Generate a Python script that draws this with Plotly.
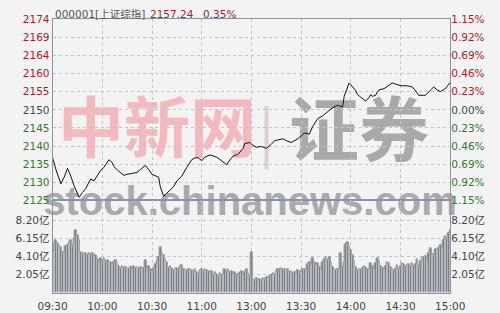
import plotly.graph_objects as go

# ---------------- data ----------------
prev_close = 2149.72

minutes = [0, 2, 5, 7, 9, 11, 13, 15, 16, 18,
           20, 22, 23, 25, 27, 29, 31, 34, 36, 37,
           40, 43, 45, 48, 51, 53, 56, 58, 60, 64,
           65, 67, 70, 73, 75, 78, 81, 84, 86, 88,
           90, 92, 95, 97, 99, 102, 105, 107, 109, 111,
           112, 115, 116, 119, 121, 123, 126, 129, 132, 134,
           137, 139, 141, 144, 146, 148, 150, 152, 155, 157,
           160, 163, 166, 169, 172, 175, 176, 178, 179, 180,
           183, 184, 187, 189, 191, 192, 193, 195, 196, 197,
           200, 201, 204, 205, 208, 211, 214, 217, 219, 221,
           224, 225, 228, 230, 232, 234, 237, 240]

prices = [2136.6, 2133.4, 2129.5, 2131.3, 2133.7, 2131.6, 2128.9, 2127.1, 2125.8, 2127.1,
          2128.2, 2130.0, 2130.8, 2130.3, 2131.8, 2133.2, 2134.0, 2136.1, 2135.3, 2134.2,
          2132.9, 2131.8, 2132.1, 2132.4, 2132.6, 2133.4, 2134.5, 2133.4, 2132.1, 2131.3,
          2128.7, 2126.1, 2127.4, 2128.7, 2130.3, 2131.6, 2134.0, 2136.1, 2136.6, 2136.6,
          2135.8, 2136.8, 2137.4, 2137.1, 2136.8, 2135.8, 2134.7, 2136.0, 2137.1, 2137.4,
          2137.6, 2139.2, 2140.5, 2140.8, 2140.0, 2139.5, 2139.7, 2139.2, 2140.3, 2141.3,
          2141.6, 2141.8, 2141.3, 2140.8, 2141.3, 2141.8, 2142.6, 2143.4, 2143.1, 2145.2,
          2147.3, 2148.1, 2149.2, 2150.3, 2151.0, 2150.5, 2153.4, 2156.3, 2157.1, 2156.6,
          2155.0, 2153.9, 2152.9, 2152.1, 2153.1, 2153.9, 2153.4, 2153.7, 2154.7, 2155.2,
          2155.5, 2155.8, 2156.6, 2157.1, 2156.6, 2156.3, 2156.3, 2156.0, 2155.0, 2153.7,
          2153.7, 2153.7, 2155.0, 2156.0, 2155.2, 2154.7, 2155.5, 2157.24]

volumes = [
    4.6, 5.6, 5.9, 5.6, 5.4, 5.2, 4.6, 4.6, 5.3, 5.4,
    5.6, 5.9, 5.4, 6.1, 7.1, 6.5, 6.0, 4.6, 4.5, 4.4,
    4.5, 4.3, 4.5, 4.4, 4.5, 4.0, 4.2, 3.8, 3.5, 3.9,
    3.7, 3.9, 3.6, 3.7, 3.4, 3.5, 3.2, 3.4, 3.7, 3.3,
    3.0, 2.8, 3.0, 2.9, 2.9, 2.8, 2.7, 2.9, 2.7, 3.0,
    2.8, 2.9, 2.8, 2.9, 2.6, 2.8, 3.7, 2.8, 3.0, 2.7,
    2.4, 2.7, 3.2, 3.6, 4.0, 5.2, 4.5, 4.2, 3.8, 3.4,
    2.8, 3.0, 2.8, 2.5, 2.7, 2.8, 2.6, 3.0, 3.1, 2.7,
    2.6, 2.5, 2.7, 2.7, 2.5, 2.4, 2.6, 2.3, 2.1, 2.5,
    2.6, 2.4, 2.7, 2.5, 2.4, 2.2, 2.4, 2.0, 2.3, 2.1,
    1.9, 2.2, 2.0, 2.1, 2.6, 2.4, 2.7, 2.3, 2.4, 2.1,
    2.3, 2.1, 2.0, 2.2, 2.4, 2.0, 2.3, 2.6, 2.2, 1.8,
    4.6,
    1.5, 1.4, 1.6, 1.3, 1.5, 1.4, 1.6, 1.5, 1.7, 1.6,
    1.8, 2.0, 2.2, 2.0, 2.3, 2.6, 2.7, 2.8, 2.7, 2.6,
    2.5, 2.6, 2.3, 2.4, 2.2, 2.3, 2.1, 2.5, 2.4, 2.3,
    2.7, 2.6, 2.5, 3.2, 3.5, 3.2, 3.9, 3.4, 3.1, 3.3,
    2.9, 2.7, 3.4, 3.8, 4.0, 3.7, 4.0, 3.5, 2.9, 2.7,
    2.5, 2.6, 2.6, 4.5, 2.9, 3.4, 5.5, 5.7, 5.3, 4.8,
    4.2, 3.6, 2.9, 2.5, 2.7, 2.5, 2.8, 3.0, 2.9, 2.6,
    2.5, 3.3, 3.0, 2.6, 3.3, 3.9, 3.6, 3.0, 2.8, 2.6,
    3.0, 3.5, 3.3, 2.9, 2.6, 2.5, 2.7, 3.1, 2.7, 3.0,
    3.3, 3.2, 3.0, 3.1, 3.2, 2.9, 3.3, 3.0, 3.2, 3.8,
    3.0, 3.6, 3.9, 4.0, 4.1, 3.6, 4.5, 5.0, 4.3, 4.4,
    4.9, 4.8, 5.0, 5.4, 5.0, 6.0, 6.4, 6.2, 6.8, 7.1,
]

time_ticks = [0, 30, 60, 90, 120, 150, 180, 210, 240]
time_labels = ["09:30", "10:00", "10:30", "11:00", "13:00", "13:30", "14:00", "14:30", "15:00"]

pct_steps = [1.15, 0.92, 0.69, 0.46, 0.23, 0.0, -0.23, -0.46, -0.69, -0.92, -1.15]
price_labels = ["2174", "2169", "2164", "2160", "2155", "2150", "2145", "2140", "2135", "2130", "2125"]
pct_labels = ["1.15%", "0.92%", "0.69%", "0.46%", "0.23%", "0.00%", "0.23%", "0.46%", "0.69%", "0.92%", "1.15%"]

vol_ticks = [2.05, 4.10, 6.15, 8.20]
vol_labels = ["2.05亿", "4.10亿", "6.15亿", "8.20亿"]

code_name = "000001[上证综指]"

# ---------------- styling ----------------
RED = "#ad1a2c"
GREEN = "#2a7d2a"
NEUTRAL = "#444444"
BORDER = "#8494aa"
GRID = "#c4c4c4"
BG = "#f3f3f3"
FONT = "DejaVu Sans, Noto Sans CJK SC, sans-serif"


def colored(labels, steps):
    out = []
    for lab, s in zip(labels, steps):
        c = RED if s > 0 else (GREEN if s < 0 else NEUTRAL)
        out.append("<span style='color:%s'>%s</span>" % (c, lab))
    return out


tick_prices = [prev_close * (1 + s / 100.0) for s in pct_steps]
y_lo = prev_close * (1 - 1.15 / 100.0)
y_hi = prev_close * (1 + 1.15 / 100.0)

last_price = prices[-1]
last_pct = (last_price / prev_close - 1) * 100

fig = go.Figure()

fig.add_trace(go.Bar(
    x=list(range(len(volumes))), y=volumes, xaxis="x2", yaxis="y2",
    width=1.0,
    marker=dict(color="#999999", line=dict(color="#141414", width=0.7)),
    hoverinfo="skip", showlegend=False,
))
# invisible companions so the right-hand axes render
fig.add_trace(go.Bar(
    x=list(range(len(volumes))), y=volumes, xaxis="x2", yaxis="y4",
    width=1.0, marker=dict(color="rgba(0,0,0,0)"),
    hoverinfo="skip", showlegend=False,
))
fig.add_trace(go.Scatter(
    x=minutes, y=prices, xaxis="x", yaxis="y3", mode="lines",
    line=dict(color="rgba(0,0,0,0)", width=1),
    hoverinfo="skip", showlegend=False,
))
fig.add_trace(go.Scatter(
    x=minutes, y=prices, xaxis="x", yaxis="y", mode="lines",
    line=dict(color="#111111", width=1),
    hoverinfo="skip", showlegend=False,
))

W, H = 500, 313
px0, px1 = 40, 463
py_top, py_div, py_bot = 14, 202, 298

xdom = [px0 / W, px1 / W]
price_dom = [(H - py_div) / H, (H - py_top) / H]
vol_dom = [(H - py_bot) / H, (H - py_div) / H]

tickfont = dict(family=FONT, size=10.5, color=NEUTRAL)

common_x = dict(
    domain=xdom, range=[0, 240], tickvals=time_ticks,
    showgrid=True, gridcolor=GRID, griddash="dot", gridwidth=1,
    zeroline=False, showline=True, linecolor=BORDER, linewidth=1, mirror=True,
    ticks="", fixedrange=True,
)

fig.update_layout(
    width=W, height=H, autosize=False,
    margin=dict(l=0, r=0, t=0, b=0),
    paper_bgcolor=BG, plot_bgcolor="rgba(0,0,0,0)",
    bargap=0, barmode="overlay",
    xaxis=dict(common_x, anchor="y", showticklabels=False),
    xaxis2=dict(common_x, anchor="y2", ticktext=time_labels, showticklabels=True,
                tickfont=tickfont, ticklabelstandoff=4),
    yaxis=dict(domain=price_dom, range=[y_lo, y_hi], anchor="x",
               tickvals=tick_prices, ticktext=colored(price_labels, pct_steps),
               tickfont=tickfont, showgrid=True, gridcolor=GRID, griddash="dot",
               zeroline=False, showline=True, linecolor=BORDER, mirror=True, ticks=""),
    yaxis3=dict(overlaying="y", side="right", range=[y_lo, y_hi], anchor="x",
                tickvals=tick_prices, ticktext=colored(pct_labels, pct_steps),
                tickfont=tickfont, showgrid=False, zeroline=False, showline=False, ticks=""),
    yaxis2=dict(domain=vol_dom, range=[0, 10.5], anchor="x2",
                tickvals=vol_ticks, ticktext=vol_labels, tickfont=tickfont,
                showgrid=True, gridcolor=GRID, griddash="dot",
                zeroline=False, showline=True, linecolor=BORDER, mirror=True, ticks=""),
    yaxis4=dict(overlaying="y2", side="right", range=[0, 10.5], anchor="x2",
                tickvals=vol_ticks, ticktext=vol_labels, tickfont=tickfont,
                showgrid=False, zeroline=False, showline=False, ticks=""),
)

# header texts
ty = (H - 8) / H
fig.add_annotation(x=40 / W, y=ty, xref="paper", yref="paper", xanchor="left", yanchor="middle",
                   text=code_name, showarrow=False,
                   font=dict(family=FONT, size=10.5, color="#555555"))
fig.add_annotation(x=142 / W, y=ty, xref="paper", yref="paper", xanchor="left", yanchor="middle",
                   text="%.2f" % last_price, showarrow=False,
                   font=dict(family=FONT, size=10.5, color=RED))
fig.add_annotation(x=198 / W, y=ty, xref="paper", yref="paper", xanchor="left", yanchor="middle",
                   text="%.2f%%" % last_pct, showarrow=False,
                   font=dict(family=FONT, size=10.5, color=RED))


# watermark (drawn beneath grid and data)
def wm(cx, cy, w, h, text, size, color, family, weight=700):
    fig.add_shape(type="rect", xref="paper", yref="paper",
                  x0=(cx - w / 2) / W, x1=(cx + w / 2) / W,
                  y0=(H - (cy + h / 2)) / H, y1=(H - (cy - h / 2)) / H,
                  line=dict(width=0), fillcolor="rgba(0,0,0,0)", layer="below",
                  label=dict(text=text, textposition="middle center",
                             font=dict(family=family, size=size, color=color, weight=weight)))


wm(151, 133, 220, 84, "中新网", 66, "#f3b9bd", "Noto Sans CJK SC")
wm(366, 136, 170, 84, "证券", 70, "#a9a9a9", "Noto Sans CJK SC")
wm(250, 199, 420, 50, "stock.chinanews.com", 40, "#aaaaaa", "Liberation Sans, Arial, sans-serif")
fig.add_shape(type="line", xref="paper", yref="paper",
              x0=267.5 / W, x1=267.5 / W, y0=(H - 170) / H, y1=(H - 104) / H,
              line=dict(color="#dccfcf", width=4), layer="below")

fig.write_html("out.html")
